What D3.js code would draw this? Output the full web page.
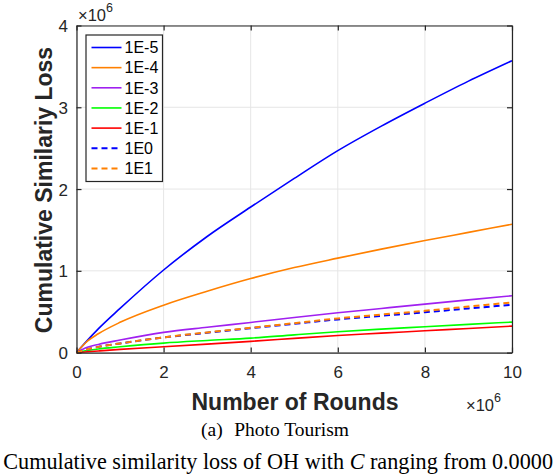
<!DOCTYPE html>
<html><head><meta charset="utf-8">
<script src="https://cdn.jsdelivr.net/npm/d3@7"></script>
<style>
html,body{margin:0;padding:0;background:#fff;overflow:hidden;}
svg{display:block;}
</style></head>
<body>
<svg id="c" width="554" height="474"></svg>
<script>
// Rounds (x 10^6)
const rounds = [0, 0.25, 0.5, 1, 2, 3, 4, 5, 6, 7, 8, 9, 10];
// Cumulative similarity loss (x 10^6)
const c1em5 = [0, 0.15, 0.29, 0.54, 1.01, 1.42, 1.78, 2.13, 2.47, 2.77, 3.05, 3.32, 3.57];
const c1em4 = [0, 0.14, 0.23, 0.37, 0.58, 0.75, 0.905, 1.04, 1.155, 1.265, 1.37, 1.47, 1.57];
const c1em3 = [0, 0.065, 0.10, 0.153, 0.247, 0.31, 0.369, 0.43, 0.487, 0.54, 0.593, 0.645, 0.695];
const c1em2 = [0, 0.025, 0.045, 0.071, 0.116, 0.148, 0.177, 0.217, 0.255, 0.287, 0.316, 0.345, 0.373];
const c1em1 = [0, 0.01, 0.02, 0.039, 0.071, 0.104, 0.137, 0.174, 0.21, 0.238, 0.267, 0.295, 0.324];
const c1e0  = [0, 0.04, 0.07, 0.112, 0.185, 0.243, 0.298, 0.352, 0.406, 0.45, 0.493, 0.54, 0.585];
const c1e1  = [0, 0.04, 0.07, 0.112, 0.186, 0.247, 0.303, 0.36, 0.418, 0.465, 0.511, 0.563, 0.614];
const seriesNames = ["1E-5", "1E-4", "1E-3", "1E-2", "1E-1", "1E0", "1E1"];
const seriesValues = [c1em5, c1em4, c1em3, c1em2, c1em1, c1e0, c1e1];
const xTicks = [0, 2, 4, 6, 8, 10];
const yTicks = [0, 1, 2, 3, 4];

const colors = ["#0000ff", "#ff8000", "#a020f0", "#00ff00", "#ff0000", "#0000ff", "#ff8000"];
const dashed = [false, false, false, false, false, true, true];

const svg = d3.select("#c");
const L = 76.5, R = 512, T = 25.5, B = 352.6;
const x = d3.scaleLinear().domain([0, 10]).range([L, R]);
const y = d3.scaleLinear().domain([0, 4]).range([B, T]);
const sans = "'Liberation Sans', Arial, Helvetica, sans-serif";
const serif = "'Liberation Serif', 'Times New Roman', serif";
const axisColor = "#262626";

// grid
const g = svg.append("g");
g.selectAll(".gx").data(xTicks).join("line")
  .attr("x1", d => x(d)).attr("x2", d => x(d)).attr("y1", T).attr("y2", B)
  .attr("stroke", "#e6e6e6").attr("stroke-width", 1);
g.selectAll(".gy").data(yTicks).join("line")
  .attr("y1", d => y(d)).attr("y2", d => y(d)).attr("x1", L).attr("x2", R)
  .attr("stroke", "#e6e6e6").attr("stroke-width", 1);

// lines
const line = d3.line().x((d, i) => x(rounds[i])).y(d => y(d)).curve(d3.curveMonotoneX);
seriesValues.forEach((vals, k) => {
  svg.append("path").datum(vals)
    .attr("d", line).attr("fill", "none")
    .attr("stroke", colors[k]).attr("stroke-width", dashed[k] ? 2 : 1.6)
    .attr("stroke-dasharray", dashed[k] ? "6,4" : null);
});

// axes (matlab-style box with inward ticks)
const fmt = d3.format("d");
const xb = svg.append("g").attr("transform", `translate(0,${B})`)
  .call(d3.axisBottom(x).tickValues(xTicks).tickFormat(fmt).tickSizeInner(-5).tickSizeOuter(0).tickPadding(13));
const xt = svg.append("g").attr("transform", `translate(0,${T})`)
  .call(d3.axisTop(x).tickValues(xTicks).tickSizeInner(-5).tickSizeOuter(0).tickFormat(""));
const yl = svg.append("g").attr("transform", `translate(${L},0)`)
  .call(d3.axisLeft(y).tickValues(yTicks).tickFormat(fmt).tickSizeInner(-5).tickSizeOuter(0).tickPadding(8.5));
const yr = svg.append("g").attr("transform", `translate(${R},0)`)
  .call(d3.axisRight(y).tickValues(yTicks).tickSizeInner(-5).tickSizeOuter(0).tickFormat(""));
[xb, xt, yl, yr].forEach(a => {
  a.select(".domain").attr("stroke", axisColor).attr("stroke-width", 1.2);
  a.selectAll(".tick line").attr("stroke", axisColor).attr("stroke-width", 1.2);
  a.selectAll("text").attr("fill", axisColor).style("font-family", sans).style("font-size", "17px");
});
yl.selectAll("text").attr("dy", "0.36em");

// exponent labels
function expLabel(px, py) {
  const t = svg.append("text").attr("x", px).attr("y", py)
    .style("font-family", sans).style("font-size", "16.5px").attr("fill", axisColor);
  t.append("tspan").text("\u00d710");
  t.append("tspan").attr("dy", -9).style("font-size", "12.5px").text("6");
}
expLabel(78, 20.5);
expLabel(466, 410.5);

// axis titles
svg.append("text").attr("x", 295).attr("y", 410).attr("text-anchor", "middle")
  .style("font-family", sans).style("font-size", "23px").style("font-weight", "bold")
  .attr("fill", axisColor).text("Number of Rounds");
svg.append("text").attr("transform", "translate(52,190) rotate(-90)").attr("text-anchor", "middle")
  .style("font-family", sans).style("font-size", "23px").style("font-weight", "bold")
  .attr("fill", axisColor).text("Cumulative Similariy Loss");

// legend
const lg = svg.append("g");
lg.append("rect").attr("x", 86).attr("y", 35).attr("width", 76.5).attr("height", 146.5)
  .attr("fill", "#fff").attr("stroke", axisColor).attr("stroke-width", 1.2);
seriesNames.forEach((n, k) => {
  const yy = 47.5 + k * 20.15;
  lg.append("line").attr("x1", 91.5).attr("x2", 121.5).attr("y1", yy).attr("y2", yy)
    .attr("stroke", colors[k]).attr("stroke-width", dashed[k] ? 2 : 1.6)
    .attr("stroke-dasharray", dashed[k] ? "6,4" : null);
  lg.append("text").attr("x", 124.5).attr("y", yy).attr("dy", "0.36em")
    .style("font-family", sans).style("font-size", "16px").attr("fill", "#000").text(n);
});

// caption
svg.append("text").attr("x", 201).attr("y", 436)
  .style("font-family", serif).style("font-size", "19.5px").attr("fill", "#000").text("(a)");
svg.append("text").attr("x", 349).attr("y", 436).attr("text-anchor", "end")
  .style("font-family", serif).style("font-size", "19.5px").attr("fill", "#000").text("Photo Tourism");
const cap = svg.append("text").attr("x", 553).attr("y", 468.5).attr("text-anchor", "end")
  .style("font-family", serif).style("font-size", "22.2px").attr("fill", "#000");
cap.append("tspan").text("Cumulative similarity loss of OH with ");
cap.append("tspan").style("font-style", "italic").text("C");
cap.append("tspan").text(" ranging from 0.0000");
</script>
</body></html>
